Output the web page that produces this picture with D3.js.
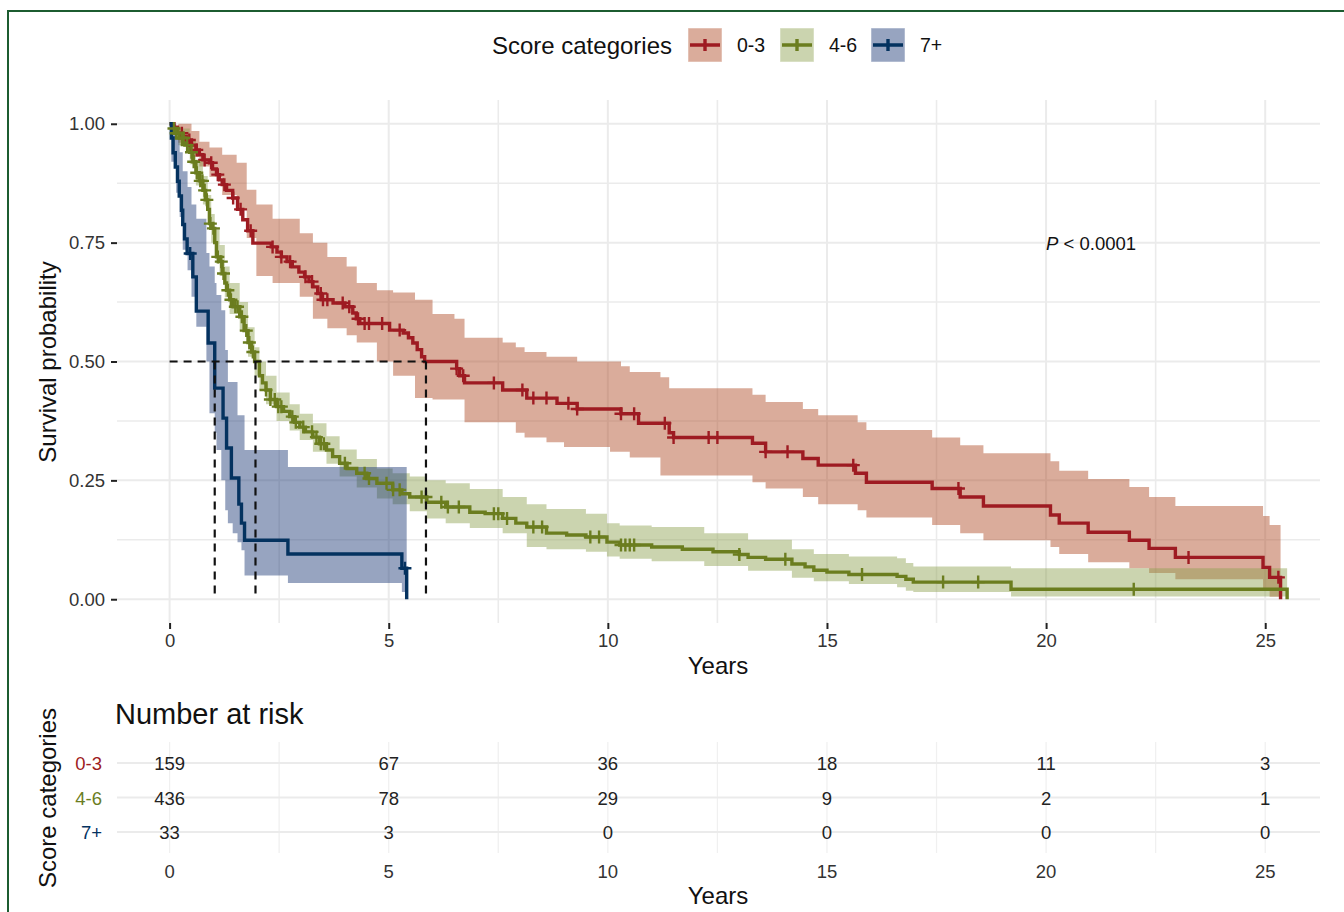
<!DOCTYPE html>
<html>
<head>
<meta charset="utf-8">
<script src="https://cdn.jsdelivr.net/npm/d3@7"></script>
<style>
  body { margin: 0; background: #fff; }
  svg { display: block; font-family: "Liberation Sans", Arial, sans-serif; }
</style>
</head>
<body>
<div id="chart"></div>
<script>
// groups + colours
const groups = ['0-3', '4-6', '7+'];
const lineColors = ['#9e1b22', '#6b7d1f', '#04325f'];
const bandColors = ['#ad4721', '#8b9f4d', '#183573'];

// KM steps: [years, survival]
const curve03 = [[0,1],[0.1,0.993],[0.18,0.98],[0.3,0.973],[0.38,0.966],[0.5,0.955],[0.6,0.945],[0.68,0.935],[0.76,0.924],[0.91,0.918],[0.98,0.905],[1.07,0.893],[1.14,0.882],[1.2,0.872],[1.3,0.86],[1.44,0.844],[1.55,0.82],[1.67,0.798],[1.78,0.775],[1.9,0.749],[2.32,0.741],[2.45,0.73],[2.55,0.72],[2.68,0.71],[2.8,0.699],[2.95,0.688],[3.08,0.678],[3.18,0.668],[3.27,0.657],[3.38,0.643],[3.46,0.63],[3.73,0.623],[4.0,0.615],[4.18,0.602],[4.26,0.59],[4.34,0.58],[5.02,0.566],[5.33,0.56],[5.45,0.55],[5.55,0.539],[5.65,0.525],[5.75,0.51],[5.82,0.5],[6.55,0.485],[6.62,0.47],[6.73,0.455],[7.6,0.44],[8.15,0.423],[8.84,0.412],[9.3,0.4],[10.3,0.39],[10.7,0.37],[11.4,0.35],[11.5,0.34],[13.3,0.328],[13.6,0.31],[14.45,0.296],[14.8,0.282],[15.65,0.265],[15.9,0.246],[17.4,0.233],[18.04,0.215],[18.57,0.196],[20.1,0.177],[20.3,0.16],[20.96,0.141],[21.9,0.124],[22.35,0.107],[22.95,0.088],[24.95,0.067],[25.1,0.046],[25.35,0]];
const curve46 = [[0,1],[0.05,0.99],[0.12,0.98],[0.23,0.97],[0.35,0.955],[0.46,0.94],[0.53,0.92],[0.6,0.897],[0.68,0.88],[0.76,0.86],[0.82,0.84],[0.87,0.82],[0.91,0.79],[0.95,0.78],[1.03,0.75],[1.07,0.72],[1.14,0.71],[1.2,0.685],[1.26,0.665],[1.3,0.65],[1.37,0.63],[1.45,0.615],[1.6,0.594],[1.7,0.565],[1.79,0.54],[1.87,0.52],[1.94,0.5],[2.05,0.47],[2.12,0.455],[2.2,0.44],[2.3,0.42],[2.44,0.405],[2.6,0.395],[2.74,0.384],[2.85,0.372],[2.97,0.362],[3.1,0.352],[3.27,0.341],[3.42,0.327],[3.58,0.314],[3.72,0.3],[3.88,0.286],[4.05,0.275],[4.27,0.265],[4.5,0.254],[4.73,0.244],[5.09,0.23],[5.3,0.222],[5.48,0.215],[5.87,0.204],[6.3,0.194],[6.85,0.183],[7.2,0.18],[7.6,0.17],[7.9,0.16],[8.15,0.152],[8.6,0.139],[9.06,0.135],[9.5,0.131],[9.98,0.12],[10.27,0.114],[11.0,0.11],[11.7,0.105],[12.4,0.1],[13.0,0.094],[13.2,0.088],[13.6,0.084],[14.2,0.074],[14.5,0.068],[14.7,0.061],[15.0,0.057],[15.5,0.052],[16.6,0.048],[16.8,0.042],[16.97,0.036],[19.2,0.021],[25.5,0]];
const curve7 = [[0,1],[0.04,0.97],[0.08,0.939],[0.13,0.909],[0.18,0.879],[0.22,0.848],[0.27,0.818],[0.3,0.788],[0.34,0.758],[0.4,0.727],[0.53,0.678],[0.61,0.606],[0.88,0.539],[1.03,0.444],[1.22,0.381],[1.3,0.318],[1.41,0.255],[1.58,0.2],[1.64,0.16],[1.71,0.124],[2.7,0.095],[5.3,0.065],[5.41,0]];

// confidence bands: [years, lower, upper]
const band03 = [[0,1,1],[0.2,0.96,1],[0.5,0.93,0.985],[0.68,0.91,0.962],[0.91,0.888,0.95],[1.2,0.85,0.935],[1.53,0.82,0.918],[1.76,0.76,0.861],[1.98,0.68,0.83],[2.35,0.665,0.8],[2.97,0.636,0.77],[3.27,0.59,0.75],[3.6,0.57,0.72],[4.04,0.555,0.7],[4.27,0.54,0.665],[4.73,0.5,0.65],[5.1,0.47,0.645],[5.6,0.423,0.63],[6.0,0.42,0.6],[6.5,0.42,0.59],[6.73,0.372,0.55],[7.6,0.372,0.54],[7.9,0.35,0.53],[8.1,0.34,0.52],[8.6,0.33,0.51],[9.0,0.32,0.51],[9.3,0.32,0.5],[10.05,0.31,0.5],[10.3,0.31,0.49],[10.5,0.298,0.478],[11.2,0.26,0.467],[11.4,0.26,0.444],[13.3,0.246,0.43],[13.6,0.233,0.415],[14.45,0.215,0.4],[14.8,0.2,0.387],[15.7,0.187,0.372],[15.9,0.172,0.356],[17.4,0.156,0.34],[18.04,0.139,0.324],[18.57,0.124,0.307],[20.1,0.11,0.29],[20.3,0.095,0.27],[20.96,0.078,0.253],[21.9,0.065,0.236],[22.35,0.055,0.215],[22.95,0.042,0.196],[24.95,0.02,0.175],[25.1,0.005,0.156],[25.35,0.005,0.156]];
const band46 = [[0,1,1],[0.2,0.955,0.99],[0.46,0.915,0.965],[0.6,0.87,0.925],[0.76,0.83,0.89],[0.87,0.79,0.85],[0.95,0.75,0.81],[1.03,0.72,0.78],[1.14,0.68,0.745],[1.26,0.635,0.7],[1.37,0.6,0.665],[1.6,0.565,0.625],[1.79,0.51,0.572],[1.94,0.47,0.53],[2.05,0.44,0.5],[2.2,0.41,0.47],[2.44,0.375,0.435],[2.74,0.355,0.41],[2.97,0.335,0.39],[3.27,0.31,0.37],[3.58,0.285,0.343],[3.88,0.258,0.315],[4.27,0.235,0.295],[4.73,0.212,0.275],[5.09,0.2,0.265],[5.48,0.185,0.258],[5.87,0.17,0.25],[6.3,0.16,0.244],[6.85,0.15,0.232],[7.6,0.139,0.215],[8.15,0.11,0.2],[8.6,0.105,0.19],[9.5,0.1,0.18],[9.98,0.09,0.16],[10.27,0.085,0.155],[11.0,0.08,0.152],[12.2,0.07,0.139],[13.2,0.06,0.125],[14.2,0.045,0.105],[14.7,0.038,0.095],[15.5,0.032,0.09],[16.6,0.025,0.086],[16.8,0.018,0.076],[16.97,0.015,0.069],[19.2,0.006,0.065],[25.5,0.006,0.065]];
const band7 = [[0,1,1],[0.04,0.92,1],[0.15,0.855,0.97],[0.23,0.804,0.94],[0.3,0.735,0.9],[0.41,0.692,0.867],[0.5,0.636,0.83],[0.61,0.573,0.8],[0.84,0.5,0.728],[0.91,0.391,0.7],[1.03,0.35,0.665],[1.07,0.314,0.64],[1.18,0.25,0.608],[1.27,0.187,0.524],[1.33,0.16,0.457],[1.44,0.139,0.457],[1.55,0.12,0.387],[1.64,0.103,0.387],[1.71,0.05,0.314],[2.7,0.034,0.278],[5.3,0.015,0.278],[5.41,0.015,0.278]];

// censoring times
const censor03 = [0.28,0.45,0.62,0.8,0.95,1.1,1.25,1.45,1.62,1.85,2.35,2.55,2.75,3.1,3.25,3.45,3.5,3.6,3.95,4.1,4.3,4.45,4.55,4.85,5.25,6.55,6.7,7.4,8.05,8.3,8.6,9.1,9.3,10.3,10.6,11.3,11.5,12.3,12.5,13.6,14.1,15.6,18.0,23.25,25.3];
const censor46 = [0.1,0.15,0.2,0.28,0.32,0.4,0.5,0.55,0.62,0.7,0.75,0.8,0.85,0.93,1.0,1.1,1.18,1.23,1.33,1.4,1.5,1.55,1.65,1.75,1.82,1.9,2.2,2.3,2.4,2.48,2.55,2.8,2.88,3.05,3.25,3.35,3.45,3.52,4.0,4.45,4.55,4.95,5.1,5.25,5.75,5.85,6.2,6.35,6.6,7.4,7.5,7.7,8.3,8.5,9.6,9.8,10.3,10.4,10.5,10.6,13.0,14.05,15.8,17.65,18.45,22.0];
const censor7 = [0.47, 5.37];

// median survival per group
const medians = [5.85, 1.96, 1.03];

// number at risk table
const riskTimes = [0, 5, 10, 15, 20, 25];
const risk03 = [159, 67, 36, 18, 11, 3];
const risk46 = [436, 78, 29, 9, 2, 1];
const risk7 = [33, 3, 0, 0, 0, 0];

const xTicks = [0, 5, 10, 15, 20, 25];
const yTicks = [0, 0.25, 0.5, 0.75, 1];
const pText = '< 0.0001';

const curves = [curve03, curve46, curve7];
const bands = [band03, band46, band7];
const censors = [censor03, censor46, censor7];
const risks = [risk03, risk46, risk7];

const W = 1344, H = 912;
const svg = d3.select('#chart').append('svg').attr('width', W).attr('height', H);

// scales (panel 117..1320, 100..623)
const x = d3.scaleLinear().domain([-1.2, 26.25]).range([117, 1320]);
const y = d3.scaleLinear().domain([-0.05, 1.05]).range([623, 100]);
const yRisk = d3.scalePoint().domain(groups).range([763, 832]);
const tbl = {top: 742, bottom: 853};

const grid = '#ebebeb';
const txt = '#333';
const small = '18.5px';

// frame
svg.append('rect').attr('x', 8).attr('y', 11).attr('width', W).attr('height', H)
  .attr('fill', 'none').attr('stroke', '#1c5c30').attr('stroke-width', 2);

// main grid
let gGrid = svg.append('g');
d3.range(0, 26.5, 2.5).forEach(v => {
  gGrid.append('line').attr('x1', x(v)).attr('x2', x(v)).attr('y1', 100).attr('y2', 623)
    .attr('stroke', grid).attr('stroke-width', v % 5 === 0 ? 2 : 1.6);
});
d3.range(0, 1.01, 0.125).forEach(v => {
  gGrid.append('line').attr('x1', 117).attr('x2', 1320).attr('y1', y(v)).attr('y2', y(v))
    .attr('stroke', grid).attr('stroke-width', (v * 4) % 1 === 0 ? 2 : 1.6);
});

// axes
let xAxis = svg.append('g').attr('transform', 'translate(0,623)')
  .call(d3.axisBottom(x).tickValues(xTicks).tickSize(6).tickPadding(5));
let yAxis = svg.append('g').attr('transform', 'translate(117,0)')
  .call(d3.axisLeft(y).tickValues(yTicks).tickSize(6).tickPadding(6).tickFormat(d3.format('.2f')));
[xAxis, yAxis].forEach(a => {
  a.select('.domain').remove();
  a.selectAll('line').attr('stroke', '#222').attr('stroke-width', 2);
  a.selectAll('text').attr('fill', txt).style('font-size', small);
});

// bands
const area = d3.area().curve(d3.curveStepAfter)
  .x(d => x(d[0])).y0(d => y(d[1])).y1(d => y(d[2]));
svg.append('g').selectAll('path').data(bands).enter().append('path')
  .attr('d', area)
  .attr('fill', (d, i) => bandColors[i])
  .attr('fill-opacity', 0.45);

// curves
const line = d3.line().curve(d3.curveStepAfter).x(d => x(d[0])).y(d => y(d[1]));
svg.append('g').selectAll('path').data(curves).enter().append('path')
  .attr('d', line)
  .attr('fill', 'none')
  .attr('stroke', (d, i) => lineColors[i])
  .attr('stroke-width', 3.4);

// censor marks sit on the curve
const survAt = (curve, t) => {
  let i = d3.bisector(d => d[0]).right(curve, t) - 1;
  return curve[Math.max(i, 0)][1];
};
censors.forEach((list, i) => {
  svg.append('g').selectAll('path').data(list).enter().append('path')
    .attr('transform', t => 'translate(' + x(t) + ',' + y(survAt(curves[i], t)) + ')')
    .attr('d', 'M-6.5,0H6.5M0,-6.5V6.5')
    .attr('stroke', lineColors[i])
    .attr('stroke-width', 2.4);
});

// median lines
let gMed = svg.append('g').attr('stroke', '#111').attr('stroke-width', 2.2)
  .attr('stroke-dasharray', '8,6').attr('fill', 'none');
gMed.append('line').attr('x1', x(0)).attr('x2', x(d3.max(medians)))
  .attr('y1', y(0.5)).attr('y2', y(0.5));
medians.forEach(m => {
  gMed.append('line').attr('x1', x(m)).attr('x2', x(m)).attr('y1', y(0.5)).attr('y2', y(0));
});

// p value
let pv = svg.append('text').attr('x', x(20)).attr('y', y(0.75) + 7)
  .style('font-size', small).attr('fill', '#111');
pv.append('tspan').style('font-style', 'italic').text('P');
pv.append('tspan').text(' ' + pText);

// axis titles
svg.append('text').attr('x', 718).attr('y', 674).attr('text-anchor', 'middle')
  .style('font-size', '24px').attr('fill', '#111').text('Years');
svg.append('text').attr('transform', 'translate(56,362) rotate(-90)').attr('text-anchor', 'middle')
  .style('font-size', '24px').attr('fill', '#111').text('Survival probability');

// legend
let lg = svg.append('g');
lg.append('text').attr('x', 672).attr('y', 54).attr('text-anchor', 'end')
  .style('font-size', '24px').attr('fill', '#111').text('Score categories');
const keyX = [688, 780, 871];
groups.forEach((gname, i) => {
  let k = lg.append('g').attr('transform', 'translate(' + keyX[i] + ',28)');
  k.append('rect').attr('width', 34).attr('height', 34)
    .attr('fill', bandColors[i]).attr('fill-opacity', 0.45)
    .attr('stroke', '#fff').attr('stroke-opacity', 0.5);
  k.append('path').attr('d', 'M2,17H32M17,11V23')
    .attr('stroke', lineColors[i]).attr('stroke-width', 3.4);
  lg.append('text').attr('x', keyX[i] + 49).attr('y', 52)
    .style('font-size', '19.5px').attr('fill', '#111').text(gname);
});

// ---- risk table ----
let gT = svg.append('g');
d3.range(0, 26.5, 2.5).forEach(v => {
  gT.append('line').attr('x1', x(v)).attr('x2', x(v)).attr('y1', tbl.top).attr('y2', tbl.bottom)
    .attr('stroke', '#f0f0f0').attr('stroke-width', 1.3);
});
groups.forEach(gname => {
  gT.append('line').attr('x1', 117).attr('x2', 1320).attr('y1', yRisk(gname)).attr('y2', yRisk(gname))
    .attr('stroke', grid).attr('stroke-width', 2);
});
risks.forEach((vals, i) => {
  gT.append('g').selectAll('text').data(vals).enter().append('text')
    .attr('x', (d, j) => x(riskTimes[j]))
    .attr('y', yRisk(groups[i]) + 7)
    .attr('text-anchor', 'middle')
    .style('font-size', small).attr('fill', '#222')
    .text(d => d);
  gT.append('text').attr('x', 102).attr('y', yRisk(groups[i]) + 7).attr('text-anchor', 'end')
    .style('font-size', small).attr('fill', lineColors[i]).text(groups[i]);
});
gT.append('g').selectAll('text').data(xTicks).enter().append('text')
  .attr('x', d => x(d)).attr('y', 878).attr('text-anchor', 'middle')
  .style('font-size', small).attr('fill', txt).text(d => d);
gT.append('text').attr('x', 115).attr('y', 724)
  .style('font-size', '29px').attr('fill', '#111').text('Number at risk');
gT.append('text').attr('x', 718).attr('y', 904).attr('text-anchor', 'middle')
  .style('font-size', '24px').attr('fill', '#111').text('Years');
gT.append('text').attr('transform', 'translate(56,798) rotate(-90)').attr('text-anchor', 'middle')
  .style('font-size', '24px').attr('fill', '#111').text('Score categories');
</script>
</body>
</html>
